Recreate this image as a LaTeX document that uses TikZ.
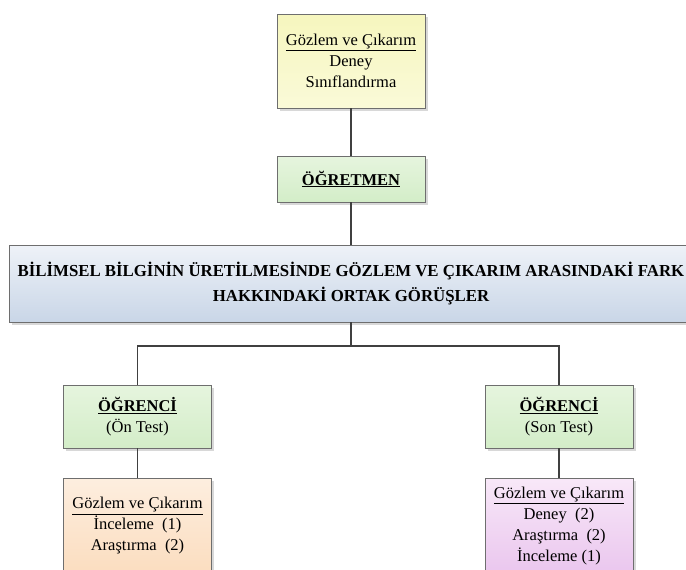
\documentclass[tikz,border=0pt]{standalone}
\usepackage{fontspec}
\setmainfont{Liberation Serif}
\usetikzlibrary{shadows}
\definecolor{linegray}{HTML}{404040}
\definecolor{boxgray}{HTML}{6E6E6E}
\definecolor{yeltop}{HTML}{F6F6BE}
\definecolor{yelbot}{HTML}{FAFAD8}
\definecolor{grntop}{HTML}{E6F5DE}
\definecolor{grnbot}{HTML}{D3EDC8}
\definecolor{blutop}{HTML}{EEF2F8}
\definecolor{blubot}{HTML}{C9D6E7}
\definecolor{ortop}{HTML}{FDEEDF}
\definecolor{orbot}{HTML}{FBDDBF}
\definecolor{purtop}{HTML}{F8E8F8}
\definecolor{purbot}{HTML}{EAC6EE}
\begin{document}
\begin{tikzpicture}[x=1pt,y=-1pt,
  box/.style={draw=boxgray, line width=0.8pt, minimum width=148pt, inner sep=0pt,
    align=center, font=\fontsize{16.5}{21}\selectfont,
    drop shadow={shadow xshift=2.5pt, shadow yshift=-2.5pt, fill=black!30, opacity=0.5}},
  yelbox/.style={box, top color=yeltop, bottom color=yelbot},
  grnbox/.style={box, top color=grntop, bottom color=grnbot},
  blubox/.style={box, top color=blutop, bottom color=blubot},
  orbox/.style={box, top color=ortop, bottom color=orbot},
  purbox/.style={box, top color=purtop, bottom color=purbot},
  conn/.style={draw=linegray, line width=1.4pt}]
\clip (0,0) rectangle (686,570);
\fill[white] (0,0) rectangle (686,570);
\node[yelbox, minimum height=94pt] (top) at (351,61)
  {\underline{Gözlem ve Çıkarım}\\Deney\\Sınıflandırma};
\node[grnbox, minimum height=46pt] (ogr) at (351,179)
  {\textbf{\underline{ÖĞRETMEN}}};
\node[blubox, minimum width=684pt, minimum height=77pt, font=\bfseries\fontsize{16.8}{25}\selectfont] (big) at (351,283.5)
  {BİLİMSEL BİLGİNİN ÜRETİLMESİNDE GÖZLEM VE ÇIKARIM ARASINDAKİ FARK\\HAKKINDAKİ ORTAK GÖRÜŞLER};
\node[grnbox, minimum height=63pt] (s1) at (137.5,416.5)
  {\textbf{\underline{ÖĞRENCİ}}\\(Ön Test)};
\node[grnbox, minimum height=63pt] (s2) at (559,416.5)
  {\textbf{\underline{ÖĞRENCİ}}\\(Son Test)};
\node[orbox, minimum height=96pt] (b1) at (137.5,526)
  {\underline{Gözlem ve Çıkarım}\\İnceleme~~(1)\\Araştırma~~(2)};
\node[purbox, minimum height=96pt] (b2) at (559,526)
  {\underline{Gözlem ve Çıkarım}\\Deney~~(2)\\Araştırma~~(2)\\İnceleme (1)};
\coordinate (j) at (351,346);
\draw[conn] (top.south) -- (ogr.north);
\draw[conn] (ogr.south) -- (big.north);
\draw[conn] (big.south) -- (j);
\draw[conn] (j) -| (s1.north);
\draw[conn] (j) -| (s2.north);
\draw[conn] (s1.south) -- (b1.north);
\draw[conn] (s2.south) -- (b2.north);
\end{tikzpicture}
\end{document}
